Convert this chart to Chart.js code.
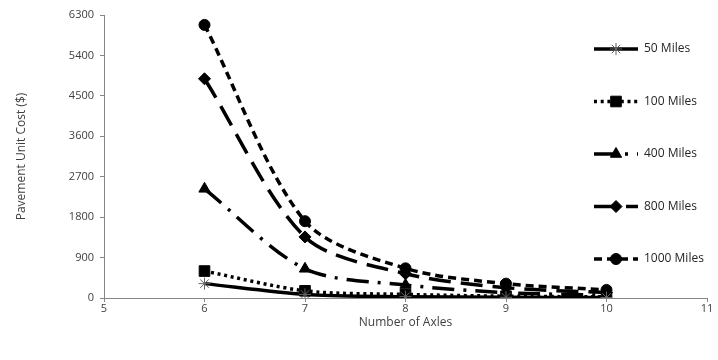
<!DOCTYPE html>
<html>
<head>
<meta charset="utf-8">
<script src="https://cdn.jsdelivr.net/npm/chart.js@4/dist/chart.umd.min.js"></script>
<style>
  html, body { margin: 0; padding: 0; background: #fff; }
  #wrap { width: 718px; height: 360px; }
</style>
</head>
<body>
<div id="wrap"><canvas id="axlesChart" width="718" height="360"></canvas></div>
<script>
// --- DATOS ---
const axles = [6, 7, 8, 9, 10];
const seriesNames = ['50 Miles', '100 Miles', '400 Miles', '800 Miles', '1000 Miles'];
const miles50 = [320, 80, 30, 15, 10];
const miles100 = [600, 160, 80, 40, 25];
const miles400 = [2430, 650, 290, 120, 60];
const miles800 = [4880, 1360, 540, 230, 120];
const miles1000 = [6080, 1710, 660, 320, 180];
const yTicks = [0, 900, 1800, 2700, 3600, 4500, 5400, 6300];
const xTicks = [5, 6, 7, 8, 9, 10, 11];

const toPoints = (vals) => vals.map((v, i) => ({ x: axles[i], y: v }));

// estilos por serie
const styles = [
    { dash: [], point: 'star', radius: 6, pointColor: '#666', pointWidth: 1 },
    { dash: [3, 3.7], point: 'rect', radius: 7.5, pointColor: '#000', pointWidth: 1 },
    { dash: [22, 9, 3, 9], point: 'triangle', radius: 6.5, pointColor: '#000', pointWidth: 1 },
    { dash: [22, 10], point: 'rectRot', radius: 6, pointColor: '#000', pointWidth: 1 },
    { dash: [8, 5], point: 'circle', radius: 5.5, pointColor: '#000', pointWidth: 1 }
];
const allValues = [miles50, miles100, miles400, miles800, miles1000];

const datasets = allValues.map((vals, i) => ({
    label: seriesNames[i],
    data: toPoints(vals),
    borderColor: '#000',
    backgroundColor: '#000',
    borderWidth: 3.5,
    borderDash: styles[i].dash,
    tension: 0.3,
    pointStyle: styles[i].point,
    pointRadius: styles[i].radius,
    pointBorderColor: styles[i].pointColor,
    pointBackgroundColor: '#000',
    pointBorderWidth: styles[i].pointWidth
}));

// --- LEYENDA DENTRO DEL AREA (como Excel) ---
const insideLegend = {
    id: 'insideLegend',
    afterDraw(chart) {
        const ctx = chart.ctx;
        const area = chart.chartArea;
        const x0 = area.right - 113;
        const x1 = x0 + 44;
        const yStart = area.top + 34;
        const step = 52.5;
        chart.data.datasets.forEach((ds, i) => {
            const y = yStart + i * step;
            ctx.save();
            ctx.strokeStyle = '#000';
            ctx.lineWidth = 3.5;
            ctx.setLineDash(ds.borderDash || []);
            ctx.beginPath();
            ctx.moveTo(x0, y);
            ctx.lineTo(x1, y);
            ctx.stroke();
            ctx.setLineDash([]);
            ctx.fillStyle = '#000';
            ctx.strokeStyle = ds.pointBorderColor;
            ctx.lineWidth = ds.pointBorderWidth;
            Chart.helpers.drawPoint(ctx, {
                pointStyle: ds.pointStyle,
                radius: ds.pointRadius,
                rotation: 0,
                borderWidth: ds.pointBorderWidth
            }, (x0 + x1) / 2, y);
            ctx.fillStyle = '#262626';
            ctx.font = '12px "Open Sans", sans-serif';
            ctx.textBaseline = 'middle';
            ctx.textAlign = 'left';
            ctx.fillText(ds.label, x1 + 6, y);
            ctx.restore();
        });
    }
};

const axisGrid = { display: true, drawOnChartArea: false, drawTicks: true, tickLength: 4, tickColor: '#868686' };

const ctx = document.getElementById('axlesChart').getContext('2d');
const myChart = new Chart(ctx, {
    type: 'line',
    data: { datasets: datasets },
    plugins: [insideLegend],
    options: {
        responsive: false,
        animation: false,
        layout: { padding: { left: 10, right: 11, top: 15, bottom: 28 } },
        plugins: {
            legend: { display: false },
            tooltip: { enabled: false }
        },
        scales: {
            x: {
                type: 'linear',
                min: 5,
                max: 11,
                afterBuildTicks: (axis) => { axis.ticks = xTicks.map(v => ({ value: v })); },
                afterFit: (axis) => { axis.height = 34; },
                grid: axisGrid,
                border: { color: '#868686', width: 1 },
                ticks: { color: '#404040', font: { family: 'Open Sans', size: 11 }, padding: 0, maxRotation: 0, callback: (v) => String(v) },
                title: { display: true, text: 'Number of Axles', color: '#404040', font: { family: 'Open Sans', size: 12 }, padding: { top: 2, bottom: 2 } }
            },
            y: {
                type: 'linear',
                min: 0,
                max: 6300,
                afterBuildTicks: (axis) => { axis.ticks = yTicks.map(v => ({ value: v })); },
                afterFit: (axis) => { axis.width = 94; },
                grid: axisGrid,
                border: { color: '#868686', width: 1 },
                ticks: { color: '#404040', font: { family: 'Open Sans', size: 11 }, padding: 6, callback: (v) => String(v) },
                title: { display: true, text: 'Pavement Unit Cost ($)', color: '#404040', font: { family: 'Open Sans', size: 12 }, padding: { top: 4, bottom: 4 } }
            }
        }
    }
});
</script>
</body>
</html>
